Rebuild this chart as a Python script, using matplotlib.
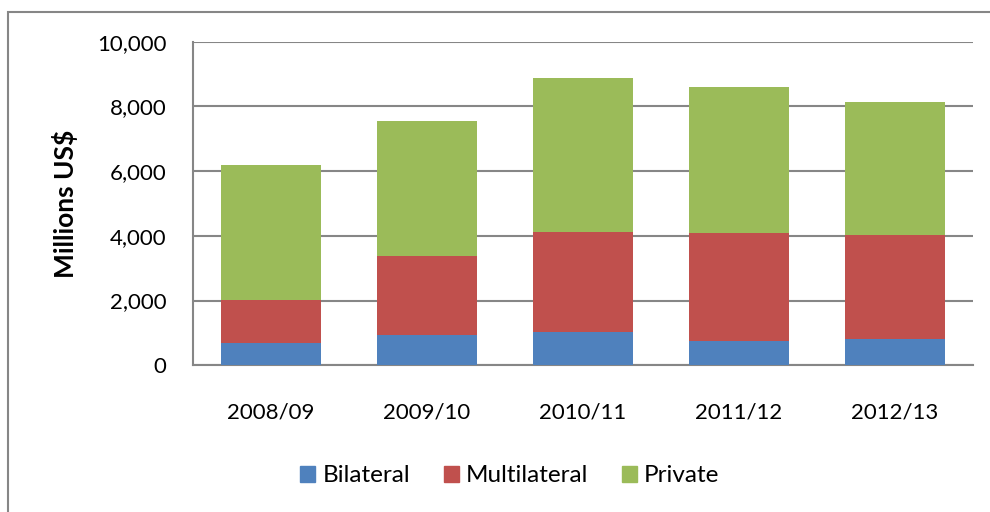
import matplotlib.pyplot as plt
from matplotlib.patches import Rectangle, Patch
import numpy as np

years = ['2008/09', '2009/10', '2010/11', '2011/12', '2012/13']
bilateral = [680, 937, 1020, 752, 803]
multilateral = [1349, 2451, 3110, 3326, 3224]
private = [4150, 4171, 4747, 4511, 4109]

series_names = ['Bilateral', 'Multilateral', 'Private']
colors = ['#4F81BD', '#C0504D', '#9BBB59']

plt.rcParams['font.family'] = ['Lato', 'DejaVu Sans']

fig = plt.figure(figsize=(9.9, 5.12), dpi=100)
# outer chart frame (right/bottom edges run off the image)
fig.patches.append(Rectangle((8 / 990, -0.1), 1.2, 1.1 - 12 / 512,
                             transform=fig.transFigure, fill=False,
                             edgecolor='#868686', linewidth=1.5))

ax = fig.add_axes([193 / 990, 1 - 365.3 / 512, 780 / 990, (365.3 - 41.7) / 512])

x = np.arange(len(years))
bottom = np.zeros(len(years))
for name, vals, c in zip(series_names, [bilateral, multilateral, private], colors):
    ax.bar(x, vals, width=0.64, bottom=bottom, color=c, label=name, zorder=3)
    bottom += np.array(vals)

ax.set_xlim(-0.5, len(years) - 0.5)
ax.set_ylim(0, 10000)
ax.set_yticks(range(0, 10001, 2000))
ax.set_yticklabels([f'{v:,}' for v in range(0, 10001, 2000)])
ax.set_xticks(x)
ax.set_xticklabels(years)
ax.tick_params(axis='both', length=0, labelsize=16, colors='black')
ax.tick_params(axis='y', pad=19)
ax.tick_params(axis='x', pad=27)
ax.grid(axis='y', color='#868686', linewidth=1.5, zorder=0)

for s in ['top', 'right']:
    ax.spines[s].set_visible(False)
for s in ['left', 'bottom']:
    ax.spines[s].set_color('#868686')
    ax.spines[s].set_linewidth(1.5)

ax.set_ylabel('Millions US$', fontsize=19, fontweight='bold', labelpad=14)

handles = [Patch(color=c, label=n) for n, c in zip(series_names, colors)]
fig.legend(handles=handles, loc='center', bbox_to_anchor=(510 / 990, 1 - 476 / 512),
           ncol=3, frameon=False, fontsize=17.5, handlelength=0.6, handleheight=0.6,
           handletextpad=0.3, columnspacing=1.4)

fig.savefig('out.png', dpi=100)
